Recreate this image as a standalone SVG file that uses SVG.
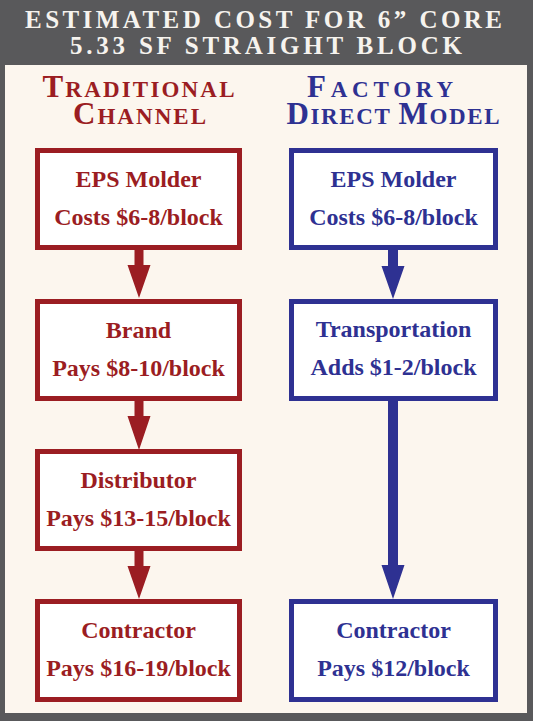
<svg xmlns="http://www.w3.org/2000/svg" width="533" height="721" viewBox="0 0 533 721">
<style>
.title{font-family:"Liberation Serif","Times New Roman",serif;font-weight:bold;font-size:25px;fill:#f6f3ee;text-anchor:middle}
.head{font-family:"Liberation Serif","Times New Roman",serif;font-weight:bold;font-size:23px;text-anchor:middle}
.big{font-size:31px}
.lbl{font-family:"Liberation Serif","Times New Roman",serif;font-weight:bold;font-size:24px;text-anchor:middle}
.red{fill:#9b1d22}
.blue{fill:#2e3192}
.boxr{fill:#ffffff;stroke:#9b1d22;stroke-width:5}
.boxb{fill:#ffffff;stroke:#2e3192;stroke-width:5}
</style>
<rect x="0" y="0" width="533" height="721" fill="#59595b"/>
<rect x="5" y="65" width="522" height="648" fill="#fcf6ee"/>
<g id="title">
<text class="title" x="263.5" y="28" textLength="477" lengthAdjust="spacing">ESTIMATED COST FOR 6” CORE</text>
<text class="title" x="266" y="54" textLength="392" lengthAdjust="spacing">5.33 SF STRAIGHT BLOCK</text>
</g>
<g id="heading-traditional">
<text class="head red" x="138.5" y="97" textLength="192" lengthAdjust="spacing"><tspan class="big">T</tspan>RADITIONAL</text>
<text class="head red" x="139.5" y="124" textLength="133" lengthAdjust="spacing"><tspan class="big">C</tspan>HANNEL</text>
</g>
<g id="heading-factory">
<text class="head blue" x="380" y="97" textLength="146" lengthAdjust="spacing"><tspan class="big">F</tspan>ACTORY</text>
<text class="head blue" x="393" y="124" textLength="213" lengthAdjust="spacing"><tspan class="big">D</tspan>IRECT <tspan class="big">M</tspan>ODEL</text>
</g>
<g id="connectors">
<path class="red" d="M134.5 250 H143.5 V265 H150.5 L139 298 L127.5 265 H134.5 Z"/>
<path class="red" d="M134.5 400 H143.5 V416 H150.5 L139 450 L127.5 416 H134.5 Z"/>
<path class="red" d="M134.5 551 H143.5 V566 H150.5 L139 599 L127.5 566 H134.5 Z"/>
<path class="blue" d="M388 250 H398 V266 H404.5 L393 299 L381.5 266 H388 Z"/>
<path class="blue" d="M388 401 H398 V565 H404.5 L393 599 L381.5 565 H388 Z"/>
</g>
<g id="trad-eps">
<rect class="boxr" x="37.5" y="150.5" width="202" height="97"/>
<text class="lbl red" x="138.5" y="187">EPS Molder</text>
<text class="lbl red" x="138.5" y="225">Costs $6-8/block</text>
</g>
<g id="trad-brand">
<rect class="boxr" x="37.5" y="301.5" width="202" height="97"/>
<text class="lbl red" x="138.5" y="338">Brand</text>
<text class="lbl red" x="138.5" y="376">Pays $8-10/block</text>
</g>
<g id="trad-distributor">
<rect class="boxr" x="37.5" y="451.5" width="202" height="97"/>
<text class="lbl red" x="138.5" y="488">Distributor</text>
<text class="lbl red" x="138.5" y="526">Pays $13-15/block</text>
</g>
<g id="trad-contractor">
<rect class="boxr" x="37.5" y="601.5" width="202" height="98"/>
<text class="lbl red" x="138.5" y="638">Contractor</text>
<text class="lbl red" x="138.5" y="676">Pays $16-19/block</text>
</g>
<g id="fd-eps">
<rect class="boxb" x="291.5" y="150.5" width="204" height="97"/>
<text class="lbl blue" x="393.5" y="187">EPS Molder</text>
<text class="lbl blue" x="393.5" y="225">Costs $6-8/block</text>
</g>
<g id="fd-transport">
<rect class="boxb" x="291.5" y="301.5" width="204" height="97"/>
<text class="lbl blue" x="393.5" y="337">Transportation</text>
<text class="lbl blue" x="393.5" y="375">Adds $1-2/block</text>
</g>
<g id="fd-contractor">
<rect class="boxb" x="291.5" y="601.5" width="204" height="98"/>
<text class="lbl blue" x="393.5" y="638">Contractor</text>
<text class="lbl blue" x="393.5" y="676">Pays $12/block</text>
</g>
</svg>
